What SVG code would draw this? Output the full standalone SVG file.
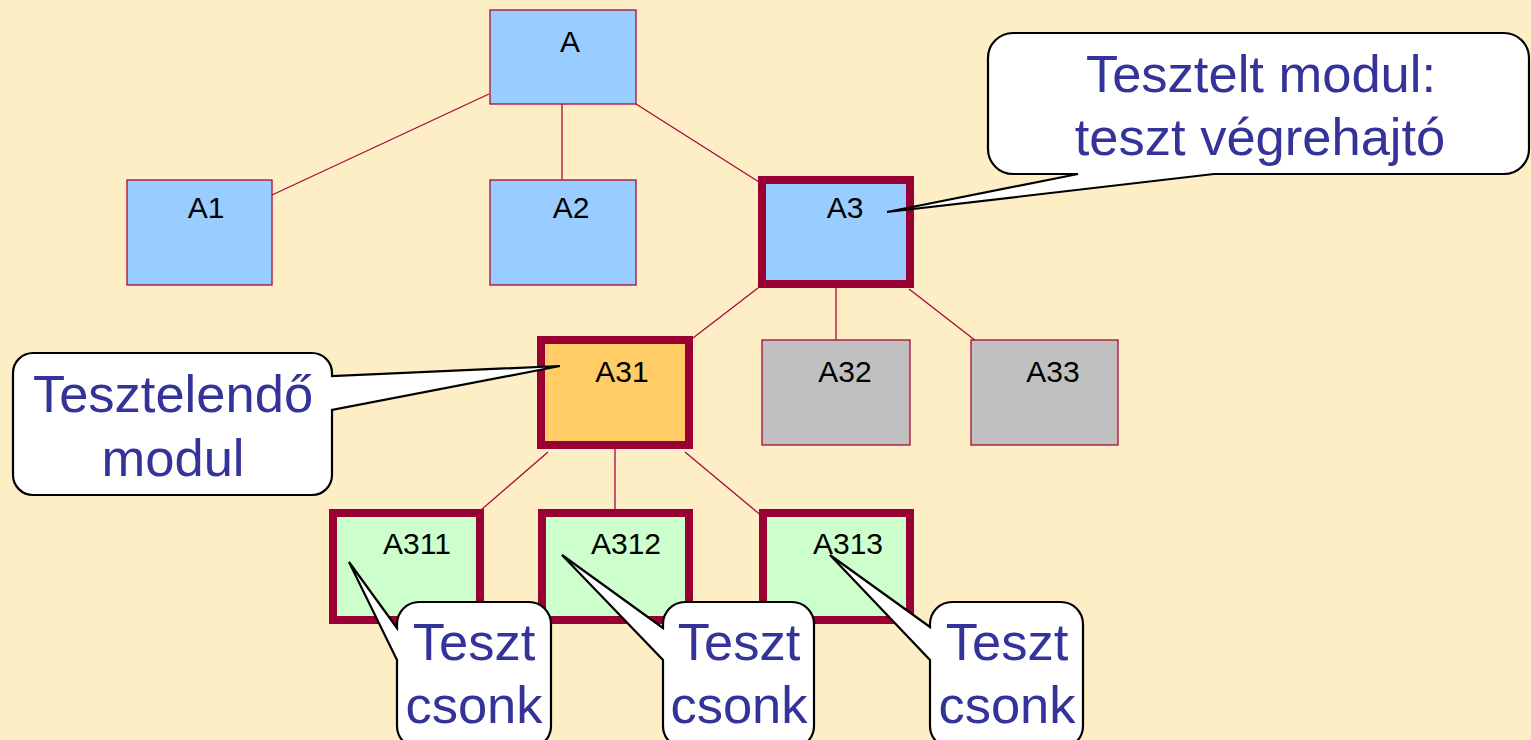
<svg xmlns="http://www.w3.org/2000/svg" width="1531" height="740" viewBox="0 0 1531 740">
<style>
.bg{fill:#feeec6}
.conn line{stroke:#a8083c;stroke-width:1.3}
.n{stroke:#a8083c;stroke-width:1.3}
.thick{stroke:#990033;stroke-width:8}
.blue{fill:#99ccff}
.gray{fill:#c0c0c0}
.orange{fill:#ffcc66}
.green{fill:#ccffcc}
.lbl{font-family:"Liberation Sans",Arial,sans-serif;font-size:30px;fill:#000;text-anchor:middle}
.co{fill:#fff;stroke:#000;stroke-width:2.2;stroke-linejoin:miter}
.ct{font-family:"Liberation Sans",Arial,sans-serif;font-size:52.5px;fill:#333399;text-anchor:middle}
</style>
<rect class="bg" x="0" y="0" width="1531" height="740"/>
<g id="connectors" class="conn">
<line x1="489" y1="94" x2="272" y2="195"/>
<line x1="562" y1="104" x2="562" y2="180"/>
<line x1="636" y1="104" x2="759" y2="182"/>
<line x1="758" y1="288" x2="693" y2="338"/>
<line x1="836" y1="288" x2="836" y2="340"/>
<line x1="909" y1="289" x2="976" y2="341"/>
<line x1="548" y1="452" x2="474" y2="516"/>
<line x1="615" y1="449" x2="615" y2="513"/>
<line x1="685" y1="452" x2="763" y2="517"/>
</g>
<g id="node-A"><rect class="n blue" x="490" y="10" width="146" height="94"/><text class="lbl" x="570" y="52">A</text></g>
<g id="node-A1"><rect class="n blue" x="127" y="180" width="145" height="105"/><text class="lbl" x="206" y="218">A1</text></g>
<g id="node-A2"><rect class="n blue" x="490" y="180" width="146" height="105"/><text class="lbl" x="571" y="218">A2</text></g>
<g id="node-A3"><rect class="thick blue" x="762" y="180" width="148" height="104"/><text class="lbl" x="845" y="218">A3</text></g>
<g id="node-A31"><rect class="thick orange" x="541" y="340" width="148" height="105"/><text class="lbl" x="622" y="382">A31</text></g>
<g id="node-A32"><rect class="n gray" x="762" y="340" width="148" height="105"/><text class="lbl" x="845" y="382">A32</text></g>
<g id="node-A33"><rect class="n gray" x="971" y="340" width="147" height="105"/><text class="lbl" x="1053" y="382">A33</text></g>
<g id="node-A311"><rect class="thick green" x="333" y="513" width="147" height="107"/><text class="lbl" x="417" y="554">A311</text></g>
<g id="node-A312"><rect class="thick green" x="542" y="513" width="147" height="107"/><text class="lbl" x="626" y="554">A312</text></g>
<g id="node-A313"><rect class="thick green" x="763" y="513" width="147" height="107"/><text class="lbl" x="848" y="554">A313</text></g>
<g id="callout-tesztelt">
<path class="co" d="M1013,33 H1504 A25,25 0 0 1 1529,58 V149 A25,25 0 0 1 1504,174 H1214 L887,212 L1078,174 H1013 A25,25 0 0 1 988,149 V58 A25,25 0 0 1 1013,33 Z"/>
<text class="ct" x="1261" y="92">Tesztelt modul:</text>
<text class="ct" x="1260" y="155">teszt végrehajtó</text>
</g>
<g id="callout-tesztelendo">
<path class="co" d="M33,353 H312 A20,20 0 0 1 332,373 V376 L560,366 L332,410 V475 A20,20 0 0 1 312,495 H33 A20,20 0 0 1 13,475 V373 A20,20 0 0 1 33,353 Z"/>
<text class="ct" x="173" y="412">Tesztelendő</text>
<text class="ct" x="173" y="476">modul</text>
</g>
<g id="callout-csonk1">
<path class="co" d="M419,602 H529 A22,22 0 0 1 551,624 V726 A22,22 0 0 1 529,748 H419 A22,22 0 0 1 397,726 V660 L349,562 L397,628 V624 A22,22 0 0 1 419,602 Z"/>
<text class="ct" x="474" y="660">Teszt</text>
<text class="ct" x="474" y="723">csonk</text>
</g>
<g id="callout-csonk2">
<path class="co" d="M685,602 H792 A22,22 0 0 1 814,624 V726 A22,22 0 0 1 792,748 H685 A22,22 0 0 1 663,726 V660 L562,555 L663,628 V624 A22,22 0 0 1 685,602 Z"/>
<text class="ct" x="739" y="660">Teszt</text>
<text class="ct" x="739" y="723">csonk</text>
</g>
<g id="callout-csonk3">
<path class="co" d="M952,602 H1061 A22,22 0 0 1 1083,624 V726 A22,22 0 0 1 1061,748 H952 A22,22 0 0 1 930,726 V660 L830,555 L930,627 V624 A22,22 0 0 1 952,602 Z"/>
<text class="ct" x="1007" y="660">Teszt</text>
<text class="ct" x="1007" y="723">csonk</text>
</g>
</svg>
